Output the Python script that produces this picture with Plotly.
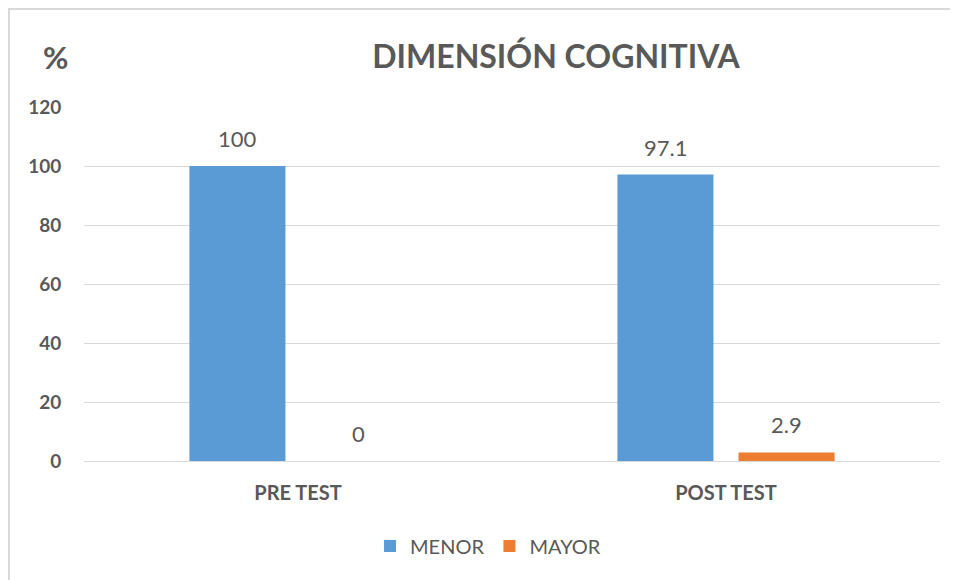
import plotly.graph_objects as go

categories = ["PRE TEST", "POST TEST"]
menor = [100, 97.1]
mayor = [0, 2.9]
series_names = ["MENOR", "MAYOR"]
y_ticks = [0, 20, 40, 60, 80, 100, 120]
title_text = "DIMENSIÓN COGNITIVA"

BLUE = "#5B9BD5"
ORANGE = "#ED7D31"
TXT = "#595959"
FONT = "Lato"

# figure is drawn 8px inside the page (body margin), so work in figure coordinates
W, H = 950, 572
L, R, T, B = 76, 18, 99, 119
PW, PH = W - L - R, H - T - B


def px(xp):
    return (xp - L) / PW


def py(yp):
    return (H - B - yp) / PH


fig = go.Figure()
fig.add_trace(go.Bar(x=categories, y=menor, name=series_names[0], marker=dict(color=BLUE, line=dict(width=0))))
fig.add_trace(go.Bar(x=categories, y=mayor, name=series_names[1], marker=dict(color=ORANGE, line=dict(width=0))))

annotations = []
for vals, shift in ((menor, -60.5), (mayor, 60.5)):
    for c, v in zip(categories, vals):
        annotations.append(dict(x=c, y=v, xref="x", yref="y", text=f"{v:g}", showarrow=False,
                                xshift=shift, yanchor="bottom", yshift=12,
                                font=dict(family=FONT, size=22, color=TXT)))
annotations.append(dict(x=px(47), y=py(49), xref="paper", yref="paper", text="<b>%</b>", showarrow=False,
                        xanchor="center", yanchor="middle",
                        font=dict(family=FONT, size=31, color=TXT)))

fig.update_layout(
    width=W, height=H,
    margin=dict(l=L, r=R, t=T, b=B),
    paper_bgcolor="white", plot_bgcolor="white",
    barmode="group", bargap=0.434, bargroupgap=0.207,
    title=dict(text=f"<b>{title_text}</b>", x=548 / W, xanchor="center", y=1 - 49 / H, yanchor="middle",
               font=dict(family=FONT, size=32, color=TXT)),
    xaxis=dict(showgrid=False, showline=False, zeroline=False, ticks="outside", ticklen=14,
               tickcolor="rgba(0,0,0,0)", tickfont=dict(family=FONT, size=20, color=TXT, weight="bold")),
    yaxis=dict(range=[0, 120], tickvals=y_ticks, showgrid=True, gridcolor="#D9D9D9", gridwidth=1,
               zeroline=True, zerolinecolor="#D9D9D9", zerolinewidth=1, showline=False,
               ticks="outside", ticklen=18, tickcolor="rgba(0,0,0,0)",
               tickfont=dict(family=FONT, size=19, color=TXT, weight="bold")),
    showlegend=True,
    legend=dict(orientation="h", x=0.472, xanchor="center", y=py(538), yanchor="middle",
                font=dict(family=FONT, size=20, color=TXT), itemwidth=30, traceorder="normal"),
    annotations=annotations,
    shapes=[
        dict(type="line", xref="paper", yref="paper", x0=px(0), x1=px(W),
             y0=py(1), y1=py(1), line=dict(color="#D9D9D9", width=2)),
        dict(type="line", xref="paper", yref="paper", x0=px(1), x1=px(1),
             y0=py(0), y1=py(H), line=dict(color="#D9D9D9", width=2)),
    ],
)

fig.write_html("out.html")
